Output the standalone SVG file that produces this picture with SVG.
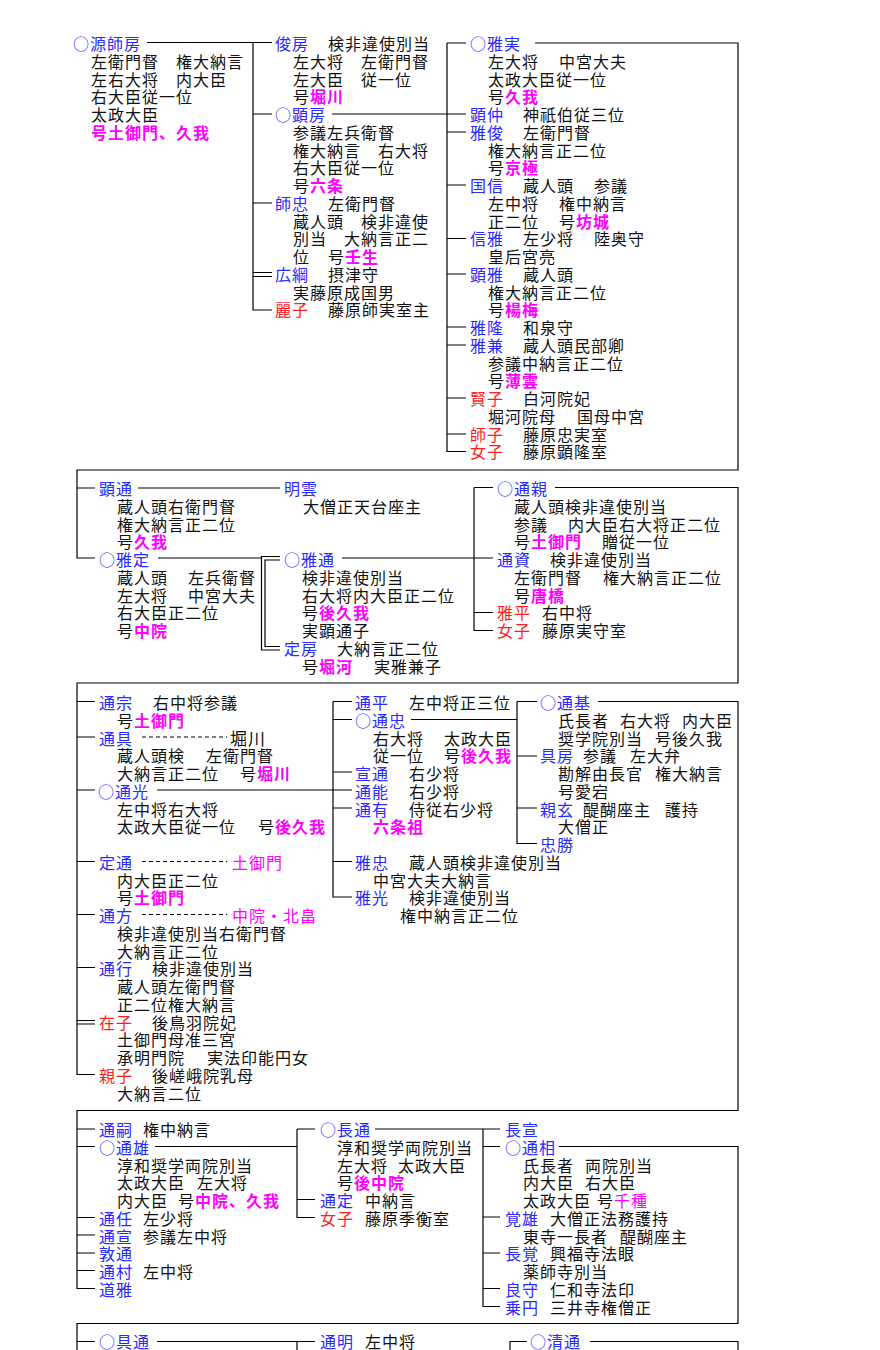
<svg xmlns="http://www.w3.org/2000/svg" width="880" height="1350" viewBox="0 0 880 1350">
<style>
text{font-family:"Noto Sans CJK JP","Noto Sans CJK SC",sans-serif;font-size:16px;letter-spacing:1px;fill:#111}
.b{fill:#2a2aff}
.r{fill:#ff1c1c}
.m{fill:#ff00ff;font-weight:bold}
.mm{fill:#ff00ff}
.l{stroke:#000;stroke-width:1.2;fill:none}
.d{stroke-dasharray:4 3}
</style>
<rect width="880" height="1350" fill="#fff"/>
<g id="connectors" class="l">
<!-- section 1 -->
<path d="M147 42.5H253M253 42.5V310H272M253 42.5H272M253 114H272M253 203H272M253 272.5H272M253 276.5H272"/>
<path d="M332 114H466M447 43V451.5H466M447 43H466M447 132H466M447 185H466M447 238.5H466M447 274H466M447 327H466M447 345H466M447 398H466M447 434H466"/>
<path d="M535 43H738V470H77V558H95M77 488H95"/>
<!-- section 2 -->
<path d="M138 488H280M158 558H261.5"/>
<path d="M280 556.5H261.5V650H280M280 560H265V646.5H280"/>
<path d="M342 558H474M474 487.5V630.5H493M474 487.5H493M474 558H493M474 612.5H493"/>
<path d="M555 487.5H738V683H77V1074.5H95"/>
<!-- section 3 -->
<path d="M77 701.5H95M77 737H95M77 790H95M77 861.5H95M77 914.5H95M77 967.5H95M77 1020.5H95M77 1024H95"/>
<path class="l d" d="M142 737H227M142 861.5H227M142 914.5H227"/>
<path d="M157 790H333M333 701.5V897H352M333 701.5H352M333 719.5H352M333 772H352M333 790H352M333 808H352M333 861.5H352"/>
<path d="M411 719.5H517M517 701.5V843.5H537M517 701.5H537M517 756H537M517 808H537"/>
<path d="M598 701.5H738V1110.5H77V1288.5H95"/>
<!-- section 4 -->
<path d="M77 1129H95M77 1146.5H95M77 1217.5H95M77 1235H95M77 1253H95M77 1270.5H95"/>
<path d="M155 1146.5H297M297 1129V1217.5H315M297 1129H315M297 1199.5H315"/>
<path d="M375 1129H483M483 1129V1306.5H500M483 1129H500M483 1146.5H500M483 1217H500M483 1253H500M483 1288.5H500"/>
<path d="M559 1146.5H738V1323.5H77V1350"/>
<!-- section 5 -->
<path d="M77 1341.5H95M157 1341.5H297V1350M297 1341.5H315M510 1350V1341.5H527M590 1341.5H738V1350"/>
</g>

<!-- ===== section 1 ===== -->
<g id="n-morofusa">
<text x="73" y="50" class="b">○源師房</text>
<text x="91" y="67.8">左衛門督　権大納言</text>
<text x="91" y="85.5">左右大将　内大臣</text>
<text x="91" y="103.3">右大臣従一位</text>
<text x="91" y="121">太政大臣</text>
<text x="91" y="138.8" class="m">号土御門、久我</text>
</g>
<g id="n-toshifusa">
<text x="275" y="50" class="b">俊房</text>
<text x="328" y="50">検非違使別当</text>
<text x="293" y="67.8">左大将　左衛門督</text>
<text x="293" y="85.5">左大臣　従一位</text>
<text x="293" y="103.3">号<tspan class="m">堀川</tspan></text>
</g>
<g id="n-akifusa">
<text x="275" y="121" class="b">○顕房</text>
<text x="293" y="138.8">参議左兵衛督</text>
<text x="293" y="156.5">権大納言　右大将</text>
<text x="293" y="174.3">右大臣従一位</text>
<text x="293" y="192">号<tspan class="m">六条</tspan></text>
</g>
<g id="n-morotada">
<text x="275" y="209.8" class="b">師忠</text>
<text x="328" y="209.8">左衛門督</text>
<text x="293" y="227.5">蔵人頭　検非違使</text>
<text x="293" y="245.3">別当　大納言正二</text>
<text x="293" y="263">位</text>
<text x="328" y="263">号<tspan class="m">壬生</tspan></text>
</g>
<g id="n-hirotsuna">
<text x="275" y="280.8" class="b">広綱</text>
<text x="328" y="280.8">摂津守</text>
<text x="293" y="298.5">実藤原成国男</text>
</g>
<g id="n-reishi">
<text x="275" y="316.3" class="r">麗子</text>
<text x="328" y="316.3">藤原師実室主</text>
</g>
<g id="n-masazane">
<text x="470" y="50" class="b">○雅実</text>
<text x="488" y="67.8">左大将</text><text x="559" y="67.8">中宮大夫</text>
<text x="488" y="85.5">太政大臣従一位</text>
<text x="488" y="103.3">号<tspan class="m">久我</tspan></text>
</g>
<g id="n-akinaka">
<text x="470" y="121" class="b">顕仲</text><text x="523" y="121">神祇伯従三位</text>
</g>
<g id="n-masatoshi">
<text x="470" y="138.8" class="b">雅俊</text><text x="523" y="138.8">左衛門督</text>
<text x="488" y="156.5">権大納言正二位</text>
<text x="488" y="174.3">号<tspan class="m">京極</tspan></text>
</g>
<g id="n-kuninobu">
<text x="470" y="192" class="b">国信</text><text x="523" y="192">蔵人頭</text><text x="594" y="192">参議</text>
<text x="488" y="209.8">左中将</text><text x="559" y="209.8">権中納言</text>
<text x="488" y="227.5">正二位</text><text x="559" y="227.5">号<tspan class="m">坊城</tspan></text>
</g>
<g id="n-nobumasa">
<text x="470" y="245.3" class="b">信雅</text><text x="523" y="245.3">左少将</text><text x="594" y="245.3">陸奥守</text>
<text x="488" y="263">皇后宮亮</text>
</g>
<g id="n-akimasa">
<text x="470" y="280.8" class="b">顕雅</text><text x="523" y="280.8">蔵人頭</text>
<text x="488" y="298.5">権大納言正二位</text>
<text x="488" y="316.3">号<tspan class="m">楊梅</tspan></text>
</g>
<g id="n-masataka">
<text x="470" y="334" class="b">雅隆</text><text x="523" y="334">和泉守</text>
</g>
<g id="n-masakane">
<text x="470" y="351.8" class="b">雅兼</text><text x="523" y="351.8">蔵人頭民部卿</text>
<text x="488" y="369.5">参議中納言正二位</text>
<text x="488" y="387.3">号<tspan class="m">薄雲</tspan></text>
</g>
<g id="n-kenshi">
<text x="470" y="405" class="r">賢子</text><text x="523" y="405">白河院妃</text>
<text x="488" y="422.8">堀河院母</text><text x="577" y="422.8">国母中宮</text>
</g>
<g id="n-shishi">
<text x="470" y="440.5" class="r">師子</text><text x="523" y="440.5">藤原忠実室</text>
</g>
<g id="n-joshi1">
<text x="470" y="458.3" class="r">女子</text><text x="523" y="458.3">藤原顕隆室</text>
</g>

<!-- ===== section 2 ===== -->
<g id="n-akimichi">
<text x="99" y="495" class="b">顕通</text>
<text x="117" y="512.8">蔵人頭右衛門督</text>
<text x="117" y="530.5">権大納言正二位</text>
<text x="117" y="548.3">号<tspan class="m">久我</tspan></text>
</g>
<g id="n-meiun">
<text x="284" y="495" class="b">明雲</text>
<text x="303" y="512.8">大僧正天台座主</text>
</g>
<g id="n-masasada">
<text x="99" y="566" class="b">○雅定</text>
<text x="117" y="583.8">蔵人頭</text><text x="188" y="583.8">左兵衛督</text>
<text x="117" y="601.5">左大将</text><text x="188" y="601.5">中宮大夫</text>
<text x="117" y="619.3">右大臣正二位</text>
<text x="117" y="637">号<tspan class="m">中院</tspan></text>
</g>
<g id="n-masamichi">
<text x="284" y="566" class="b">○雅通</text>
<text x="302" y="583.8">検非違使別当</text>
<text x="302" y="601.5">右大将内大臣正二位</text>
<text x="302" y="619.3">号<tspan class="m">後久我</tspan></text>
<text x="302" y="637">実顕通子</text>
</g>
<g id="n-sadafusa">
<text x="284" y="654.8" class="b">定房</text><text x="337" y="654.8">大納言正二位</text>
<text x="302" y="672.5">号<tspan class="m">堀河</tspan></text><text x="374" y="672.5">実雅兼子</text>
</g>
<g id="n-michichika">
<text x="497" y="495" class="b">○通親</text>
<text x="514" y="512.8">蔵人頭検非違使別当</text>
<text x="514" y="530.5">参議</text><text x="568" y="530.5">内大臣右大将正二位</text>
<text x="514" y="548.3">号<tspan class="m">土御門</tspan></text><text x="602" y="548.3">贈従一位</text>
</g>
<g id="n-michisuke">
<text x="497" y="566" class="b">通資</text><text x="550" y="566">検非違使別当</text>
<text x="514" y="583.8">左衛門督</text><text x="603" y="583.8">権大納言正二位</text>
<text x="514" y="601.5">号<tspan class="m">唐橋</tspan></text>
</g>
<g id="n-masahira">
<text x="497" y="619.3" class="r">雅平</text><text x="542" y="619.3">右中将</text>
</g>
<g id="n-joshi2">
<text x="497" y="637" class="r">女子</text><text x="542" y="637">藤原実守室</text>
</g>

<!-- ===== section 3 ===== -->
<g id="n-michimune">
<text x="99" y="709" class="b">通宗</text><text x="153" y="709">右中将参議</text>
<text x="117" y="726.8">号<tspan class="m">土御門</tspan></text>
</g>
<g id="n-michitomo">
<text x="99" y="744.5" class="b">通具</text><text x="230" y="744.5" style="font-size:17px">堀川</text>
<text x="117" y="762.3">蔵人頭検</text><text x="206" y="762.3">左衛門督</text>
<text x="117" y="780">大納言正二位</text><text x="240" y="780">号<tspan class="m">堀川</tspan></text>
</g>
<g id="n-michiteru">
<text x="98" y="797.8" class="b">○通光</text>
<text x="117" y="815.5">左中将右大将</text>
<text x="117" y="833.3">太政大臣従一位</text><text x="258" y="833.3">号<tspan class="m">後久我</tspan></text>
</g>
<g id="n-sadamichi">
<text x="99" y="868.8" class="b">定通</text><text x="232" y="868.8" class="mm">土御門</text>
<text x="117" y="886.5">内大臣正二位</text>
<text x="117" y="904.3">号<tspan class="m">土御門</tspan></text>
</g>
<g id="n-michikata">
<text x="99" y="922" class="b">通方</text><text x="232" y="922" class="mm">中院・北畠</text>
<text x="117" y="939.8">検非違使別当右衛門督</text>
<text x="117" y="957.5">大納言正二位</text>
</g>
<g id="n-michiyuki">
<text x="99" y="975.3" class="b">通行</text><text x="152" y="975.3">検非違使別当</text>
<text x="117" y="993">蔵人頭左衛門督</text>
<text x="117" y="1010.8">正二位権大納言</text>
</g>
<g id="n-zaishi">
<text x="99" y="1028.5" class="r">在子</text><text x="152" y="1028.5">後鳥羽院妃</text>
<text x="117" y="1046.3">土御門母准三宮</text>
<text x="117" y="1064">承明門院</text><text x="207" y="1064">実法印能円女</text>
</g>
<g id="n-chikako">
<text x="99" y="1081.8" class="r">親子</text><text x="152" y="1081.8">後嵯峨院乳母</text>
<text x="117" y="1099.5">大納言二位</text>
</g>
<g id="n-michihira">
<text x="355" y="709" class="b">通平</text><text x="409" y="709">左中将正三位</text>
</g>
<g id="n-michitada">
<text x="355" y="726.8" class="b">○通忠</text>
<text x="373" y="744.5">右大将</text><text x="444" y="744.5">太政大臣</text>
<text x="373" y="762.3">従一位</text><text x="444" y="762.3">号<tspan class="m">後久我</tspan></text>
</g>
<g id="n-nobumichi">
<text x="355" y="780" class="b">宣通</text><text x="409" y="780">右少将</text>
</g>
<g id="n-michiyoshi">
<text x="355" y="797.8" class="b">通能</text><text x="409" y="797.8">右少将</text>
</g>
<g id="n-michiari">
<text x="355" y="815.5" class="b">通有</text><text x="409" y="815.5">侍従右少将</text>
<text x="373" y="833.3" class="m">六条祖</text>
</g>
<g id="n-masatada">
<text x="355" y="868.8" class="b">雅忠</text><text x="409" y="868.8">蔵人頭検非違使別当</text>
<text x="373" y="886.5">中宮大夫大納言</text>
</g>
<g id="n-masamitsu">
<text x="355" y="904.3" class="b">雅光</text><text x="409" y="904.3">検非違使別当</text>
<text x="400" y="922">権中納言正二位</text>
</g>
<g id="n-michimoto">
<text x="540" y="709" class="b">○通基</text>
<text x="558" y="726.8">氏長者</text><text x="620" y="726.8">右大将</text><text x="682" y="726.8">内大臣</text>
<text x="558" y="744.5">奨学院別当</text><text x="655" y="744.5">号後久我</text>
</g>
<g id="n-tomofusa">
<text x="540" y="762.3" class="b">具房</text><text x="583" y="762.3">参議</text><text x="630" y="762.3">左大弁</text>
<text x="558" y="780">勘解由長官</text><text x="655" y="780">権大納言</text>
<text x="558" y="797.8">号愛宕</text>
</g>
<g id="n-shingen">
<text x="540" y="815.5" class="b">親玄</text><text x="583" y="815.5">醍醐座主</text><text x="665" y="815.5">護持</text>
<text x="558" y="833.3">大僧正</text>
</g>
<g id="n-tadakatsu">
<text x="540" y="851" class="b">忠勝</text>
</g>

<!-- ===== section 4 ===== -->
<g id="n-michitsugu">
<text x="99" y="1136" class="b">通嗣</text><text x="143" y="1136">権中納言</text>
</g>
<g id="n-michio">
<text x="99" y="1153.8" class="b">○通雄</text>
<text x="117" y="1171.5">淳和奨学両院別当</text>
<text x="117" y="1189.3">太政大臣</text><text x="197" y="1189.3">左大将</text>
<text x="117" y="1207">内大臣</text><text x="178" y="1207">号<tspan class="m">中院、久我</tspan></text>
</g>
<g id="n-michito">
<text x="99" y="1224.8" class="b">通任</text><text x="143" y="1224.8">左少将</text>
</g>
<g id="n-michinobu">
<text x="99" y="1242.5" class="b">通宣</text><text x="143" y="1242.5">参議左中将</text>
</g>
<g id="n-atsumichi">
<text x="99" y="1260.3" class="b">敦通</text>
</g>
<g id="n-michimura">
<text x="99" y="1278" class="b">通村</text><text x="143" y="1278">左中将</text>
</g>
<g id="n-michimasa">
<text x="99" y="1295.8" class="b">道雅</text>
</g>
<g id="n-nagamichi">
<text x="320" y="1136" class="b">○長通</text>
<text x="337" y="1153.8">淳和奨学両院別当</text>
<text x="337" y="1171.5">左大将</text><text x="398" y="1171.5">太政大臣</text>
<text x="337" y="1189.3">号<tspan class="m">後中院</tspan></text>
</g>
<g id="n-michisada">
<text x="320" y="1207" class="b">通定</text><text x="365" y="1207">中納言</text>
</g>
<g id="n-joshi3">
<text x="320" y="1224.8" class="r">女子</text><text x="365" y="1224.8">藤原季衡室</text>
</g>
<g id="n-naganobu">
<text x="505" y="1136" class="b">長宣</text>
</g>
<g id="n-michiaki">
<text x="505" y="1153.8" class="b">○通相</text>
<text x="523" y="1171.5">氏長者</text><text x="585" y="1171.5">両院別当</text>
<text x="523" y="1189.3">内大臣</text><text x="585" y="1189.3">右大臣</text>
<text x="523" y="1207">太政大臣</text><text x="597" y="1207">号<tspan class="mm">千種</tspan></text>
</g>
<g id="n-kakuyu">
<text x="505" y="1224.8" class="b">覚雄</text><text x="550" y="1224.8">大僧正法務護持</text>
<text x="523" y="1242.5">東寺一長者</text><text x="620" y="1242.5">醍醐座主</text>
</g>
<g id="n-chokaku">
<text x="505" y="1260.3" class="b">長覚</text><text x="550" y="1260.3">興福寺法眼</text>
<text x="523" y="1278">薬師寺別当</text>
</g>
<g id="n-ryoshu">
<text x="505" y="1295.8" class="b">良守</text><text x="550" y="1295.8">仁和寺法印</text>
</g>
<g id="n-joen">
<text x="505" y="1313.5" class="b">乗円</text><text x="550" y="1313.5">三井寺権僧正</text>
</g>

<!-- ===== section 5 ===== -->
<g id="n-tomomichi">
<text x="99" y="1347.5" class="b">○具通</text>
</g>
<g id="n-michiaki2">
<text x="320" y="1347.5" class="b">通明</text><text x="365" y="1347.5">左中将</text>
</g>
<g id="n-kiyomichi">
<text x="530" y="1347.5" class="b">○清通</text>
</g>
</svg>
